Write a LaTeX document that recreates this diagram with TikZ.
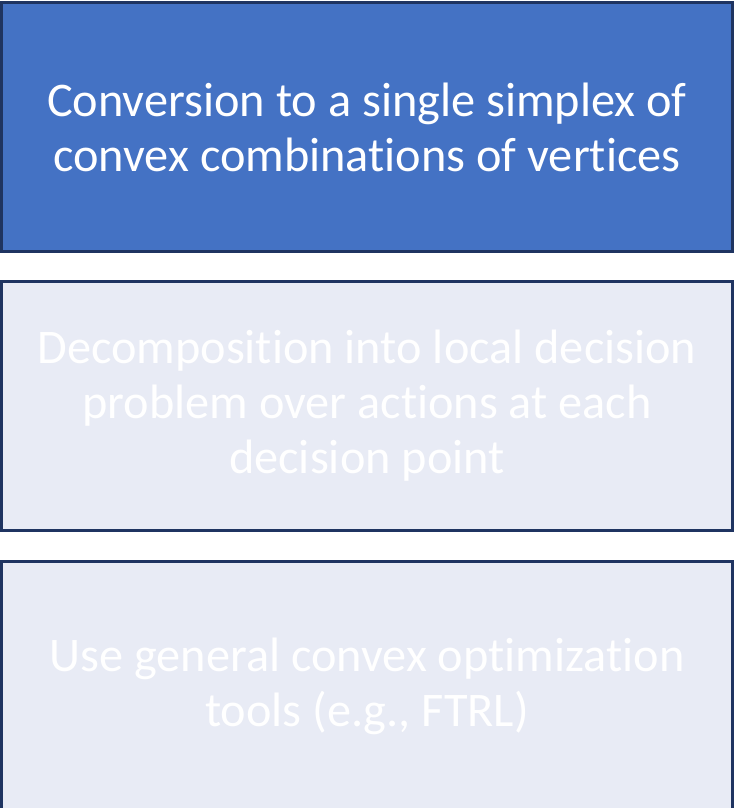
\documentclass[tikz,border=0pt]{standalone}
\usepackage{fontspec}
\setmainfont{Carlito}[RawFeature=-liga]
\definecolor{stageblue}{HTML}{4472C4}
\definecolor{stagepale}{HTML}{E8EBF5}
\definecolor{stageedge}{HTML}{1F3461}
\begin{document}
\begin{tikzpicture}[x=1pt,y=-1pt,
  stage/.style={draw=stageedge, line width=2.6pt, minimum width=731pt, minimum height=248.5pt,
    inner sep=0pt, text=white, text width=715pt, align=flush center,
    font=\fontsize{48.3}{55}\selectfont},
  active/.style={stage, fill=stageblue},
  idle/.style={stage, fill=stagepale}]
  \useasboundingbox (0,0) rectangle (735,808);
  \begin{scope}
    \clip (0,0) rectangle (735,808);
    \node[active] (conv) at (367,127) {Conversion to a single simplex of\\convex combinations of vertices};
    \node[idle] (decomp) at (367,406) {Decomposition into local decision\\problem over actions at each\\decision point};
    \node[idle] (tools) at (367,686) {Use general convex optimization\\tools (e.g., FTRL)};
  \end{scope}
\end{tikzpicture}
\end{document}
